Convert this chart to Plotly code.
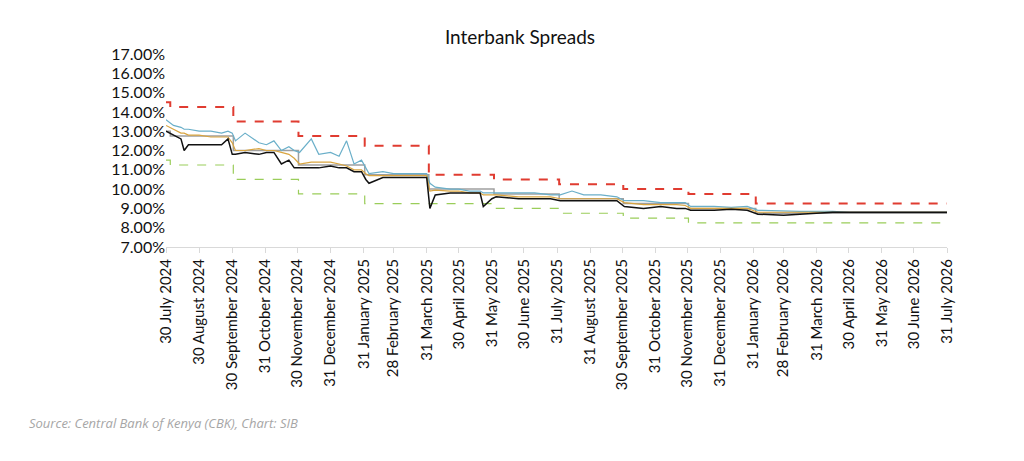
import pandas as pd
import plotly.graph_objects as go

# policy corridor (step changes)
step_dates = ["2024-07-30", "2024-08-03", "2024-10-01", "2024-12-01", "2025-02-01",
              "2025-04-02", "2025-06-02", "2025-08-02", "2025-10-01", "2025-12-01",
              "2026-02-02", "2026-07-31"]
cbr = [13.00, 12.75, 12.00, 11.25, 10.75, 10.00, 9.75, 9.50, 9.25, 9.00, 8.75, 8.75]
upper = [14.50, 14.25, 13.50, 12.75, 12.25, 10.75, 10.50, 10.25, 10.00, 9.75, 9.25, 9.25]
lower = [11.50, 11.25, 10.50, 9.75, 9.25, 9.25, 9.00, 8.75, 8.50, 8.25, 8.25, 8.25]

# interbank rates
ib_dates = ["2024-07-30", "2024-08-06", "2024-08-13", "2024-08-16", "2024-08-20", "2024-08-30",
            "2024-09-10", "2024-09-20", "2024-09-26", "2024-09-30", "2024-10-03", "2024-10-12",
            "2024-10-25", "2024-11-01", "2024-11-08", "2024-11-15", "2024-11-22", "2024-11-27",
            "2024-12-02", "2024-12-13", "2024-12-20", "2024-12-31", "2025-01-08", "2025-01-15",
            "2025-01-22", "2025-01-29", "2025-02-02", "2025-02-05", "2025-02-18", "2025-02-28",
            "2025-03-10", "2025-03-20", "2025-03-31", "2025-04-03", "2025-04-08", "2025-04-22",
            "2025-04-30", "2025-05-10", "2025-05-20", "2025-05-23", "2025-05-31", "2025-06-04",
            "2025-06-25", "2025-07-10", "2025-07-25", "2025-08-03", "2025-08-14", "2025-08-25",
            "2025-09-10", "2025-09-25", "2025-10-02", "2025-10-20", "2025-11-05", "2025-11-20",
            "2025-11-28", "2025-12-03", "2025-12-25", "2026-01-10", "2026-01-25", "2026-02-04",
            "2026-02-28", "2026-03-15", "2026-03-30", "2026-04-15", "2026-05-01", "2026-05-20",
            "2026-06-10", "2026-06-30", "2026-07-31"]
ib_max = [13.6, 13.3, 13.2, 13.1, 13.1, 13.0, 13.0, 12.9, 13.0, 12.9, 12.5, 12.9,
          12.4, 12.3, 12.5, 12.0, 12.2, 12.0, 11.9, 12.6, 11.8, 11.9, 11.7, 12.5,
          11.3, 11.5, 11.1, 10.8, 10.9, 10.8, 10.8, 10.8, 10.8, 10.3, 10.1, 10.0,
          10.0, 9.9, 9.9, 9.8, 9.8, 9.8, 9.8, 9.8, 9.7, 9.7, 9.9, 9.7,
          9.7, 9.6, 9.4, 9.4, 9.3, 9.3, 9.3, 9.1, 9.1, 9.05, 9.1, 8.9,
          8.85, 8.85, 8.85, 8.85, 8.8, 8.8, 8.8, 8.8, 8.8]
ib_avg = [13.3, 13.1, 12.9, 12.9, 12.8, 12.8, 12.7, 12.7, 12.7, 12.4, 12.0, 12.0,
          12.1, 12.0, 12.0, 11.9, 11.8, 11.6, 11.3, 11.4, 11.4, 11.4, 11.3, 11.2,
          11.0, 11.0, 10.8, 10.7, 10.7, 10.7, 10.7, 10.7, 10.7, 9.9, 9.95, 9.9,
          9.9, 9.8, 9.8, 9.7, 9.7, 9.7, 9.6, 9.6, 9.6, 9.5, 9.5, 9.5,
          9.5, 9.5, 9.3, 9.2, 9.2, 9.2, 9.15, 9.0, 9.0, 9.0, 9.0, 8.8,
          8.8, 8.8, 8.8, 8.8, 8.8, 8.8, 8.8, 8.8, 8.8]
ib_min = [13.0, 12.8, 12.6, 12.0, 12.3, 12.3, 12.3, 12.3, 12.6, 11.8, 11.8, 11.9,
          11.8, 11.9, 11.9, 11.3, 11.5, 11.1, 11.1, 11.1, 11.1, 11.2, 11.1, 11.1,
          10.9, 10.9, 10.5, 10.3, 10.6, 10.6, 10.6, 10.6, 10.6, 9.0, 9.7, 9.8,
          9.8, 9.8, 9.8, 9.1, 9.5, 9.6, 9.5, 9.5, 9.5, 9.4, 9.4, 9.4,
          9.4, 9.4, 9.1, 9.0, 9.1, 9.0, 9.0, 8.9, 8.9, 8.95, 8.9, 8.7,
          8.65, 8.7, 8.75, 8.8, 8.8, 8.8, 8.8, 8.8, 8.8]

tick_dates = ["2024-07-30", "2024-08-30", "2024-09-30", "2024-10-31", "2024-11-30",
              "2024-12-31", "2025-01-31", "2025-02-28", "2025-03-31", "2025-04-30",
              "2025-05-31", "2025-06-30", "2025-07-31", "2025-08-31", "2025-09-30",
              "2025-10-31", "2025-11-30", "2025-12-31", "2026-01-31", "2026-02-28",
              "2026-03-31", "2026-04-30", "2026-05-31", "2026-06-30", "2026-07-31"]
tick_text = [pd.Timestamp(d).strftime("%-d %B %Y") for d in tick_dates]

fig = go.Figure()
fig.add_trace(go.Scatter(x=step_dates, y=cbr, mode="lines", line_shape="hv",
                         line=dict(color="#a0a0a0", width=1.5), name="CBR"))
fig.add_trace(go.Scatter(x=step_dates, y=upper, mode="lines", line_shape="hv",
                         line=dict(color="#e03c31", width=2, dash="dash"), name="Upper"))
fig.add_trace(go.Scatter(x=step_dates, y=lower, mode="lines", line_shape="hv",
                         line=dict(color="#9acd5a", width=1.2, dash="dash"), name="Lower"))
fig.add_trace(go.Scatter(x=ib_dates, y=ib_max, mode="lines",
                         line=dict(color="#6aafc9", width=1.2), name="Max"))
fig.add_trace(go.Scatter(x=ib_dates, y=ib_avg, mode="lines",
                         line=dict(color="#d9a540", width=1.2), name="Average"))
fig.add_trace(go.Scatter(x=ib_dates, y=ib_min, mode="lines",
                         line=dict(color="#111111", width=1.5), name="Min"))

fig.update_layout(
    width=1024, height=461,
    title=dict(text="Interbank Spreads", x=0.5, xanchor="center", y=0.95,
               font=dict(family="Lato", size=19, color="#111")),
    font=dict(family="Lato", size=14, color="#111"),
    plot_bgcolor="white", paper_bgcolor="white",
    margin=dict(l=158, r=85, t=46, b=222),
    showlegend=False,
)
fig.update_xaxes(type="date", range=["2024-07-30", "2026-07-31"],
                 tickmode="array", tickvals=tick_dates, ticktext=tick_text,
                 tickangle=-90, showgrid=False, showline=True, linecolor="#d9d9d9",
                 ticks="outside", tickcolor="#d9d9d9", ticklen=5,
                 tickfont=dict(size=15))
fig.update_yaxes(range=[7, 17], dtick=1, tickformat=".2f", ticksuffix="%",
                 showgrid=False, zeroline=False, tickfont=dict(size=16))
fig.add_annotation(text="<i>Source: Central Bank of Kenya (CBK), Chart: SIB</i>",
                   xref="paper", yref="paper", x=-0.178, y=-0.97, xanchor="left",
                   showarrow=False,
                   font=dict(family="Open Sans", size=13, color="#a6a6a6"))
fig.write_html("out.html")
